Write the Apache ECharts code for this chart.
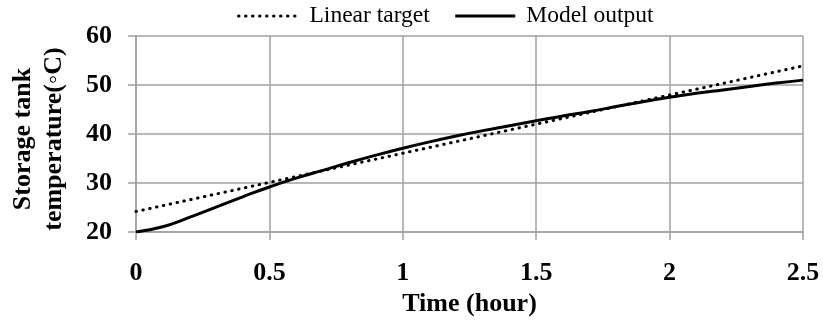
<!DOCTYPE html>
<html>
<head>
<meta charset="utf-8">
<script src="https://cdn.jsdelivr.net/npm/echarts@6/dist/echarts.min.js"></script>
<style>
html,body{margin:0;padding:0;background:#fff;}
#chart{width:823px;height:322px;}
</style>
</head>
<body>
<div id="chart"></div>
<script>
var seriesNames = ['Linear target', 'Model output'];
var timeHours = [0, 0.1, 0.2, 0.3, 0.4, 0.5, 0.6, 0.7, 0.8, 0.9, 1.0, 1.1, 1.2, 1.3, 1.4, 1.5, 1.6, 1.7, 1.8, 1.9, 2.0, 2.1, 2.2, 2.3, 2.4, 2.5];
var modelOutput = [20.0, 21.1, 23.0, 25.1, 27.2, 29.2, 31.0, 32.6, 34.2, 35.7, 37.1, 38.4, 39.6, 40.7, 41.7, 42.7, 43.7, 44.6, 45.6, 46.6, 47.5, 48.3, 49.0, 49.7, 50.4, 51.0];
var linearTime = [0, 2.5];
var linearTarget = [24.2, 53.9];
var xTitle = 'Time (hour)';
var yTitle = 'Storage tank\ntemperature(\u25E6C)';

function pairs(xs, ys) { return xs.map(function (x, i) { return [x, ys[i]]; }); }

var chart = echarts.init(document.getElementById('chart'), null, { renderer: 'canvas' });
var gridColor = '#a0a0a0';
var font = 'Liberation Serif, Times New Roman, serif';
chart.setOption({
  animation: false,
  backgroundColor: '#fff',
  textStyle: { fontFamily: font },
  legend: {
    top: -1,
    left: 232,
    itemWidth: 60,
    itemHeight: 14,
    itemGap: 24,
    itemStyle: { opacity: 0 },
    textStyle: { fontFamily: font, fontSize: 23.5, color: '#000', padding: [0, 0, 0, 6] },
    data: [
      { name: seriesNames[0], lineStyle: { width: 3, type: [0.5, 6.5], cap: 'round', color: '#000' } },
      { name: seriesNames[1], lineStyle: { width: 3, color: '#000' } }
    ]
  },
  grid: { left: 136, right: 20, top: 36, bottom: 87.5, containLabel: false },
  xAxis: {
    type: 'value', min: 0, max: 2.5, interval: 0.5,
    name: xTitle, nameLocation: 'middle', nameGap: 48,
    nameTextStyle: { fontFamily: font, fontSize: 26, fontWeight: 'bold', color: '#000' },
    axisLine: { show: true, lineStyle: { color: gridColor, width: 1.5 } },
    axisTick: { show: true, length: 8, lineStyle: { color: gridColor, width: 1.5 } },
    axisLabel: { margin: 28, fontFamily: font, fontSize: 26, fontWeight: 'bold', color: '#000' },
    splitLine: { show: true, lineStyle: { color: gridColor, width: 1.5 } }
  },
  yAxis: {
    type: 'value', min: 20, max: 60, interval: 10,
    name: yTitle, nameLocation: 'middle', nameGap: 66, nameRotate: 90,
    nameTextStyle: { fontFamily: font, fontSize: 26, fontWeight: 'bold', color: '#000', lineHeight: 31, padding: [0, 10, 0, 0] },
    axisLine: { show: true, lineStyle: { color: gridColor, width: 1.5 } },
    axisTick: { show: true, length: 8, lineStyle: { color: gridColor, width: 1.5 } },
    axisLabel: { margin: 24, fontFamily: font, fontSize: 26, fontWeight: 'bold', color: '#000' },
    splitLine: { show: true, lineStyle: { color: gridColor, width: 1.5 } }
  },
  series: [
    {
      name: seriesNames[0], type: 'line', showSymbol: false, symbol: 'none',
      data: pairs(linearTime, linearTarget),
      lineStyle: { color: '#000', width: 3, type: [0.5, 6.5], cap: 'round' },
      itemStyle: { color: '#000' },
      z: 3
    },
    {
      name: seriesNames[1], type: 'line', showSymbol: false, symbol: 'none', smooth: true,
      data: pairs(timeHours, modelOutput),
      lineStyle: { color: '#000', width: 3 },
      itemStyle: { color: '#000' },
      z: 4
    }
  ]
});
</script>
</body>
</html>
